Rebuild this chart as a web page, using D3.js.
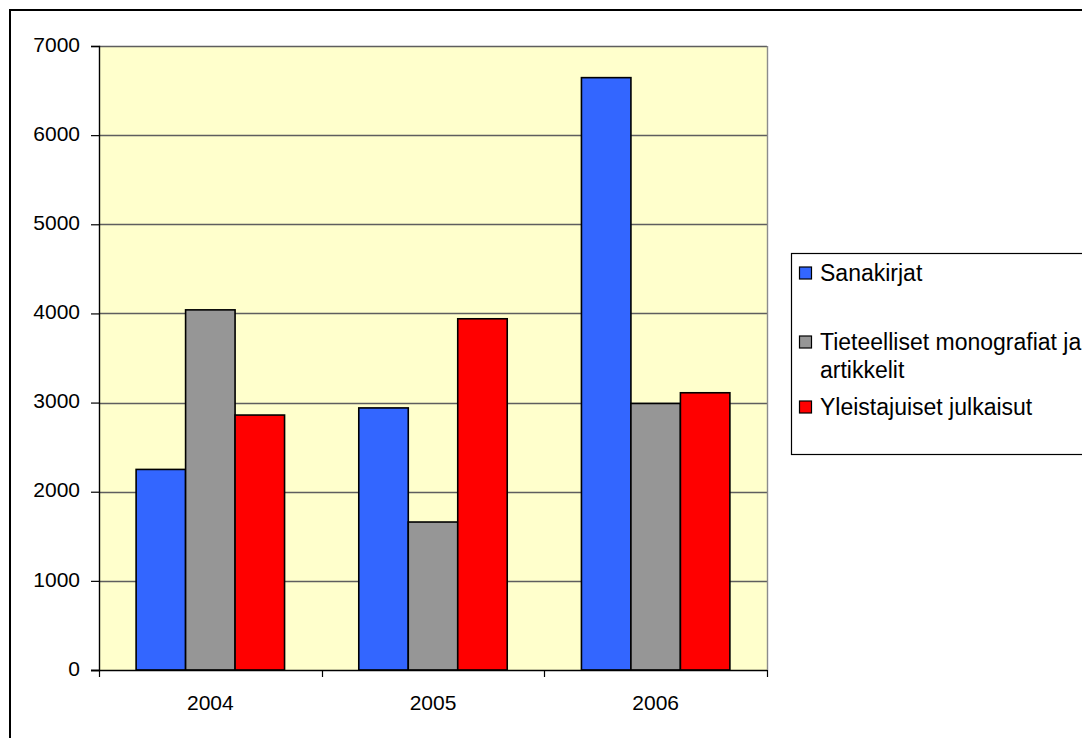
<!DOCTYPE html>
<html>
<head>
<meta charset="utf-8">
<script src="https://cdn.jsdelivr.net/npm/d3@7"></script>
<style>
  html, body { margin: 0; padding: 0; background: #fff; }
  svg { display: block; font-family: "Liberation Sans", Arial, sans-serif; }
</style>
</head>
<body>
<svg id="chart" width="1082" height="738"></svg>
<script>
// Julkaisut vuosittain
const years = ["2004", "2005", "2006"];
const seriesNames = ["Sanakirjat", "Tieteelliset monografiat ja artikkelit", "Yleistajuiset julkaisut"];
const sanakirjat = [2250, 2940, 6645];
const tieteelliset = [4040, 1660, 2990];
const yleistajuiset = [2860, 3940, 3110];
const seriesColors = ["#3366FF", "#969696", "#FF0000"];
const yTicks = [0, 1000, 2000, 3000, 4000, 5000, 6000, 7000];

const seriesValues = [sanakirjat, tieteelliset, yleistajuiset];
const FONT = "'Liberation Sans', Arial, sans-serif";

const svg = d3.select("#chart");

// outer chart frame
svg.append("rect")
  .attr("x", 10).attr("y", 10)
  .attr("width", 1200).attr("height", 900)
  .attr("fill", "none").attr("stroke", "#000").attr("stroke-width", 2);

const plot = { left: 99, right: 767, top: 46, bottom: 670 };

const x0 = d3.scaleBand().domain(years).range([plot.left, plot.right]).paddingInner(0).paddingOuter(0);
// 150% gap width: 3 bars + 1.5 bar-widths of gap per category
const x1 = d3.scaleBand().domain(d3.range(3)).range([0, x0.bandwidth()]).paddingInner(0).paddingOuter(0.75);
const y = d3.scaleLinear().domain([0, 7000]).range([plot.bottom, plot.top]);

// plot background
svg.append("rect")
  .attr("x", plot.left).attr("y", plot.top)
  .attr("width", plot.right - plot.left).attr("height", plot.bottom - plot.top)
  .attr("fill", "#FFFFCC");

// horizontal gridlines
svg.append("g").selectAll("line")
  .data(yTicks.filter(d => d > 0))
  .join("line")
  .attr("x1", plot.left).attr("x2", plot.right)
  .attr("y1", d => Math.round(y(d)) + 0.5).attr("y2", d => Math.round(y(d)) + 0.5)
  .attr("stroke", "#5e5e5e").attr("stroke-width", 1.4);

// right edge of plot area
svg.append("line")
  .attr("x1", plot.right + 0.5).attr("x2", plot.right + 0.5)
  .attr("y1", plot.top).attr("y2", plot.bottom)
  .attr("stroke", "#8c8c8c").attr("stroke-width", 1.4);

// bars
const groups = svg.append("g").selectAll("g")
  .data(years)
  .join("g")
  .attr("transform", d => `translate(${x0(d)},0)`);

groups.selectAll("rect")
  .data((d, i) => seriesValues.map((vals, s) => ({ s, v: vals[i] })))
  .join("rect")
  .attr("x", d => x1(d.s))
  .attr("width", x1.bandwidth())
  .attr("y", d => y(d.v))
  .attr("height", d => y(0) - y(d.v))
  .attr("fill", d => seriesColors[d.s])
  .attr("stroke", "#000").attr("stroke-width", 1.6);

// y axis
const yAxis = d3.axisLeft(y).tickValues(yTicks).tickSize(8).tickPadding(11).tickFormat(d3.format("d"));
const gy = svg.append("g")
  .attr("transform", `translate(${plot.left},0)`)
  .call(yAxis);
gy.select(".domain").attr("stroke", "#000").attr("stroke-width", 1.4);
gy.selectAll(".tick line").attr("stroke", "#000").attr("stroke-width", 1.2);
gy.selectAll(".tick text").attr("font-size", 21).attr("fill", "#000")
  .attr("font-family", FONT).attr("dy", "0.25em");

// x axis
const gx = svg.append("g")
  .attr("transform", `translate(0,${plot.bottom})`)
  .call(d3.axisBottom(x0).tickSize(0).tickPadding(25));
gx.select(".domain").remove();
gx.append("line")
  .attr("x1", plot.left - 8).attr("x2", plot.right)
  .attr("y1", 0.5).attr("y2", 0.5)
  .attr("stroke", "#000").attr("stroke-width", 1.4);
gx.selectAll(".tick text").attr("font-size", 21).attr("fill", "#000")
  .attr("font-family", FONT);
// category boundary ticks
gx.append("g").selectAll("line")
  .data(years.map(d => x0(d)).concat([plot.right]))
  .join("line")
  .attr("x1", d => Math.round(d) + 0.5).attr("x2", d => Math.round(d) + 0.5)
  .attr("y1", 0).attr("y2", 7)
  .attr("stroke", "#000").attr("stroke-width", 1.2);

// legend
const legend = svg.append("g");
legend.append("rect")
  .attr("x", 791.5).attr("y", 253.5)
  .attr("width", 400).attr("height", 201)
  .attr("fill", "#fff").attr("stroke", "#000").attr("stroke-width", 1.2);

const legendRows = [
  { lines: ["Sanakirjat"], y: 273 },
  { lines: ["Tieteelliset monografiat ja", "artikkelit"], y: 342 },
  { lines: ["Yleistajuiset julkaisut"], y: 407 }
];
legendRows.forEach((row, i) => {
  legend.append("rect")
    .attr("x", 799.5).attr("y", row.y - 6)
    .attr("width", 12).attr("height", 12)
    .attr("fill", seriesColors[i]).attr("stroke", "#000").attr("stroke-width", 1.2);
  const t = legend.append("text")
    .attr("x", 820).attr("y", row.y)
    .attr("dominant-baseline", "central")
    .attr("font-size", 23).attr("fill", "#000");
  row.lines.forEach((ln, k) => {
    t.append("tspan").attr("x", 820).attr("dy", k === 0 ? 0 : 28).text(ln);
  });
});
</script>
</body>
</html>
